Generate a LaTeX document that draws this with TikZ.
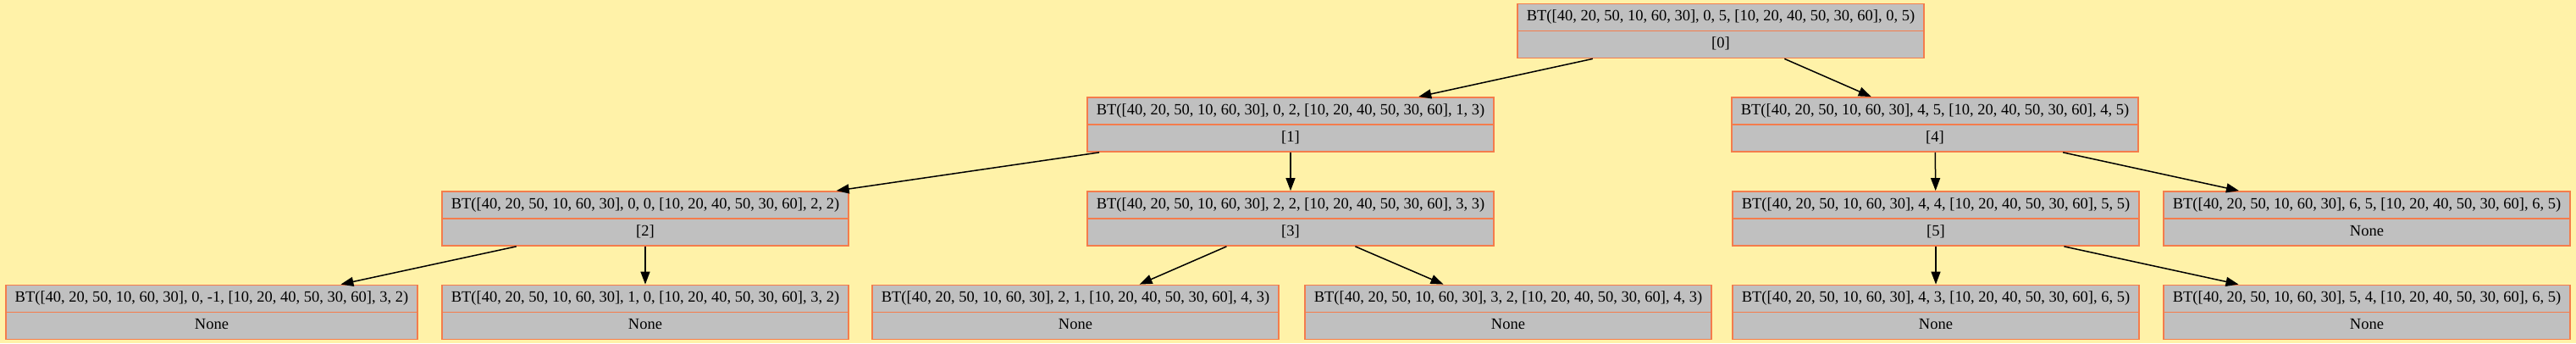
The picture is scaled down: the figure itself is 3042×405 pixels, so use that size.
\documentclass[tikz,border=0pt]{standalone}
\usepackage{fontspec}
\setmainfont{Liberation Serif}
\usetikzlibrary{arrows.meta,shapes.multipart}
\definecolor{bgyellow}{HTML}{FFF2A8}
\definecolor{recgray}{HTML}{C0C0C0}
\definecolor{recedge}{HTML}{F47C4C}
\newcommand{\recstrut}{\rule[-5pt]{0pt}{18.5pt}}
\newcommand{\btlabel}[4]{\recstrut BT([40, 20, 50, 10, 60, 30], #1, #2, [10, 20, 40, 50, 30, 60], #3, #4)}

\begin{document}
\begin{tikzpicture}[x=1pt,y=-1pt,
  rec/.style={rectangle split, rectangle split parts=2, draw=recedge, line width=1.6pt,
    fill=recgray, inner xsep=11pt, inner ysep=6pt, font=\fontsize{18.5}{22}\selectfont},
  edge/.style={-{Triangle[length=15pt,width=11pt]}, line width=1.5pt, black}]
% Background
\fill[bgyellow] (0,0) rectangle (3042,405);
% Root and inner records
\node[rec] (n0) at (2032,36.5) {\btlabel{0}{5}{0}{5}\nodepart{two}\recstrut [0]};
\node[rec] (n1) at (1524,147) {\btlabel{0}{2}{1}{3}\nodepart{two}\recstrut [1]};
\node[rec] (n4) at (2285,147) {\btlabel{4}{5}{4}{5}\nodepart{two}\recstrut [4]};
\node[rec] (n2) at (762,258) {\btlabel{0}{0}{2}{2}\nodepart{two}\recstrut [2]};
\node[rec] (n3) at (1524,258) {\btlabel{2}{2}{3}{3}\nodepart{two}\recstrut [3]};
\node[rec] (n5) at (2286,258) {\btlabel{4}{4}{5}{5}\nodepart{two}\recstrut [5]};
\node[rec] (n65) at (2795,258) {\btlabel{6}{5}{6}{5}\nodepart{two}\recstrut None};
% Leaves
\node[rec] (l20) at (250,368.5) {\btlabel{0}{-1}{3}{2}\nodepart{two}\recstrut None};
\node[rec] (l21) at (762,368.5) {\btlabel{1}{0}{3}{2}\nodepart{two}\recstrut None};
\node[rec] (l31) at (1270,368.5) {\btlabel{2}{1}{4}{3}\nodepart{two}\recstrut None};
\node[rec] (l32) at (1781,368.5) {\btlabel{3}{2}{4}{3}\nodepart{two}\recstrut None};
\node[rec] (l54) at (2286,368.5) {\btlabel{4}{3}{6}{5}\nodepart{two}\recstrut None};
\node[rec] (l55) at (2795,368.5) {\btlabel{5}{4}{6}{5}\nodepart{two}\recstrut None};
% Edges
\foreach \a/\b in {n0/n1,n0/n4,n1/n2,n1/n3,n4/n5,n4/n65,n2/l20,n2/l21,n3/l31,n3/l32,n5/l54,n5/l55} {
  \draw[edge] (\a) -- (\b);
}
\end{tikzpicture}
\end{document}
